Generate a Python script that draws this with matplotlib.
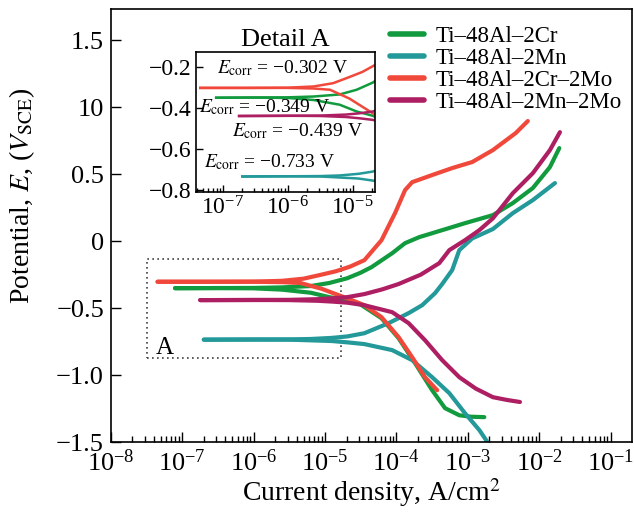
import matplotlib as mpl
mpl.use('Agg')
import matplotlib.pyplot as plt
from matplotlib.patches import Rectangle
from matplotlib.ticker import FixedLocator, NullFormatter

plt.rcParams['font.family'] = 'serif'
plt.rcParams['font.serif'] = ['Liberation Serif', 'DejaVu Serif']
plt.rcParams['mathtext.fontset'] = 'stix'

# current density (A/cm2) and potential (V_SCE)
cr_up_i = [4.5e-8, 2.5e-7, 1.0e-6, 2.5e-6, 5.0e-6, 8.9e-6, 1.41e-5, 2.24e-5, 3.55e-5, 6.17e-5,
           9.55e-5, 1.32e-4, 1.66e-4, 3.16e-4, 6.03e-4, 1.15e-3, 2.24e-3, 4.68e-3, 6.92e-3]
cr_up_E = [-0.303, -0.303, -0.302, -0.296, -0.28, -0.25, -0.225, -0.19, -0.142, 0.007,
           0.209, 0.381, 0.44, 0.493, 0.545, 0.590, 0.679, 0.806, 0.896]
cr_dn_i = [4.5e-8, 2.5e-7, 1.0e-6, 2.5e-6, 4.47e-6, 8.9e-6, 1.41e-5, 2.24e-5, 3.55e-5, 6.17e-5,
           1.07e-4, 1.66e-4, 2.51e-4, 3.72e-4]
cr_dn_E = [-0.303, -0.303, -0.303, -0.306, -0.312, -0.355, -0.395, -0.435, -0.478, -0.567,
           -0.716, -0.866, -1.015, -1.112]

g_up_i = [7.9e-8, 3.16e-7, 1.0e-6, 2.5e-6, 6.3e-6, 1.15e-5, 2.04e-5, 3.16e-5, 4.47e-5, 8.71e-5,
          1.32e-4, 2.09e-4, 4.37e-4, 9.12e-4, 2.24e-3, 4.27e-3, 8.13e-3, 1.41e-2, 1.91e-2]
g_up_E = [-0.351, -0.350, -0.349, -0.345, -0.335, -0.312, -0.277, -0.235, -0.194, -0.090,
          -0.015, 0.030, 0.082, 0.134, 0.194, 0.284, 0.396, 0.552, 0.694]
g_dn_i = [7.9e-8, 3.16e-7, 1.0e-6, 2.5e-6, 6.3e-6, 1.15e-5, 2.04e-5, 2.95e-5, 6.17e-5, 1.07e-4,
          1.82e-4, 3.16e-4, 4.79e-4, 7.59e-4, 1.12e-3, 1.70e-3]
g_dn_E = [-0.351, -0.350, -0.352, -0.362, -0.385, -0.418, -0.439, -0.463, -0.575, -0.724,
          -0.910, -1.112, -1.246, -1.299, -1.31, -1.313]

t_up_i = [2.0e-7, 1.0e-6, 3.16e-6, 6.3e-6, 1.23e-5, 2.04e-5, 3.55e-5, 7.76e-5, 1.48e-4, 2.29e-4,
          3.47e-4, 4.37e-4, 6.03e-4, 7.59e-4, 1.15e-3, 2.24e-3, 4.27e-3, 8.13e-3, 1.66e-2]
t_up_E = [-0.735, -0.734, -0.733, -0.730, -0.722, -0.711, -0.687, -0.612, -0.537, -0.478,
          -0.388, -0.32, -0.216, -0.067, 0.02, 0.09, 0.209, 0.306, 0.433]
t_dn_i = [2.0e-7, 1.0e-6, 3.16e-6, 6.3e-6, 1.23e-5, 2.04e-5, 3.55e-5, 8.71e-5, 1.66e-4, 3.16e-4,
          5.50e-4, 9.12e-4, 1.45e-3, 2.0e-3]
t_dn_E = [-0.735, -0.734, -0.735, -0.740, -0.745, -0.755, -0.768, -0.813, -0.888, -1.015,
          -1.134, -1.284, -1.41, -1.52]

m_up_i = [1.78e-7, 1.0e-6, 3.16e-6, 7.9e-6, 1.26e-5, 2.04e-5, 3.55e-5, 6.3e-5, 1.07e-4, 2.19e-4,
          3.98e-4, 5.50e-4, 9.12e-4, 1.45e-3, 2.24e-3, 4.27e-3, 8.13e-3, 1.41e-2, 1.95e-2]
m_up_E = [-0.440, -0.439, -0.438, -0.433, -0.427, -0.418, -0.395, -0.36, -0.32, -0.25,
          -0.164, -0.067, 0.007, 0.082, 0.17, 0.358, 0.507, 0.679, 0.813]
m_dn_i = [1.78e-7, 1.0e-6, 3.16e-6, 7.9e-6, 1.26e-5, 2.04e-5, 3.55e-5, 8.71e-5, 1.48e-4, 2.51e-4,
          4.37e-4, 7.59e-4, 1.29e-3, 2.24e-3, 3.55e-3, 5.37e-3]
m_dn_E = [-0.440, -0.439, -0.440, -0.445, -0.451, -0.459, -0.478, -0.530, -0.612, -0.739,
          -0.888, -1.015, -1.10, -1.164, -1.185, -1.20]

curves = [
    ("Ti\u201348Al\u20132Cr", "#129a3e", g_up_i, g_up_E, g_dn_i, g_dn_E),
    ("Ti\u201348Al\u20132Mn", "#23999a", t_up_i, t_up_E, t_dn_i, t_dn_E),
    ("Ti\u201348Al\u20132Cr\u20132Mo", "#f0493c", cr_up_i, cr_up_E, cr_dn_i, cr_dn_E),
    ("Ti\u201348Al\u20132Mn\u20132Mo", "#ad1f62", m_up_i, m_up_E, m_dn_i, m_dn_E),
]

ecorr_labels = ["\u22120.302", "\u22120.349", "\u22120.439", "\u22120.733"]
ecorr_pos = [(0.486, 0.886), (0.385, 0.607), (0.57, 0.43), (0.413, 0.214)]

y_ticks = [-1.5, -1.0, -0.5, 0, 0.5, 1.0, 1.5]
y_ticklabels = ["\u22121.5", "\u22121.0", "\u22120.5", "0", "0.5", "10", "1.5"]
x_major = [1e-8, 1e-7, 1e-6, 1e-5, 1e-4, 1e-3, 1e-2, 1e-1]

fig = plt.figure(figsize=(6.34, 5.13), dpi=100)
ax = fig.add_axes([0.175, 0.138, 0.822, 0.844])

for label, c, ui, uE, di, dE in curves:
    ax.plot(ui, uE, color=c, lw=3, solid_capstyle='round', label=label)
    ax.plot(di, dE, color=c, lw=3, solid_capstyle='round')

ax.set_xscale('log')
ax.set_xlim(1e-8, 0.2)
ax.set_ylim(-1.5, 1.73)
ax.xaxis.set_major_locator(FixedLocator(x_major))
ax.xaxis.set_minor_locator(FixedLocator([m * d for d in x_major[:-1] for m in range(2, 10)]))
ax.xaxis.set_minor_formatter(NullFormatter())
ax.set_yticks(y_ticks)
ax.set_yticklabels(y_ticklabels)
ax.tick_params(which='both', direction='in', top=False, right=False, labelsize=19)
ax.tick_params(which='major', length=7, width=1)
ax.tick_params(which='minor', length=4, width=1)
ax.tick_params(axis='y', pad=5)
ax.tick_params(axis='x', pad=5)
for s in ax.spines.values():
    s.set_linewidth(1.2)

ax.set_xlabel(r'Current density, A/cm$^2$', fontsize=20, labelpad=0)
ax.set_ylabel(r'Potential, $E$, ($V_{\rm SCE}$)', fontsize=20)
ax.yaxis.set_label_coords(-0.142, 0.57)

# dotted detail box
ax.add_patch(Rectangle((3.2e-8, -0.873), 1.66e-5 - 3.2e-8, 0.739, fill=False,
                       ls=(0, (1, 2)), lw=1.2, ec='0.25'))
ax.text(4.2e-8, -0.84, 'A', fontsize=18, ha='left', va='baseline')

leg = ax.legend(loc='upper left', bbox_to_anchor=(0.535, 0.962), frameon=False,
                fontsize=16.5, handlelength=1.5, handletextpad=0.5, labelspacing=0.05,
                borderpad=0, borderaxespad=0)
for h in leg.get_lines():
    h.set_linewidth(4)

# inset
axin = fig.add_axes([0.309, 0.626, 0.282, 0.273])
for label, c, ui, uE, di, dE in curves:
    axin.plot(ui, uE, color=c, lw=1.8)
    axin.plot(di, dE, color=c, lw=1.8)
axin.set_xscale('log')
axin.set_xlim(3.85e-8, 2.18e-5)
axin.set_ylim(-0.81, -0.127)
axin.set_yticks([-0.8, -0.6, -0.4, -0.2])
axin.xaxis.set_major_locator(FixedLocator([1e-7, 1e-6, 1e-5]))
axin.xaxis.set_minor_locator(FixedLocator([m * d for d in [1e-8, 1e-7, 1e-6, 1e-5] for m in range(2, 10)]))
axin.xaxis.set_minor_formatter(NullFormatter())
axin.tick_params(which='both', direction='in', top=False, right=False, labelsize=17)
axin.tick_params(which='major', length=5, width=1)
axin.tick_params(which='minor', length=3, width=1)
axin.tick_params(axis='x', pad=3)
axin.tick_params(axis='y', pad=3)
for s in axin.spines.values():
    s.set_linewidth(1.2)
axin.set_title('Detail A', fontsize=19, pad=4)
for txt, (px, py) in zip(ecorr_labels, ecorr_pos):
    axin.text(px, py, r'$E_{\rm corr}$ = ' + txt + ' V', transform=axin.transAxes,
              fontsize=14, ha='center', va='center')

plt.savefig('out.png', dpi=100)
